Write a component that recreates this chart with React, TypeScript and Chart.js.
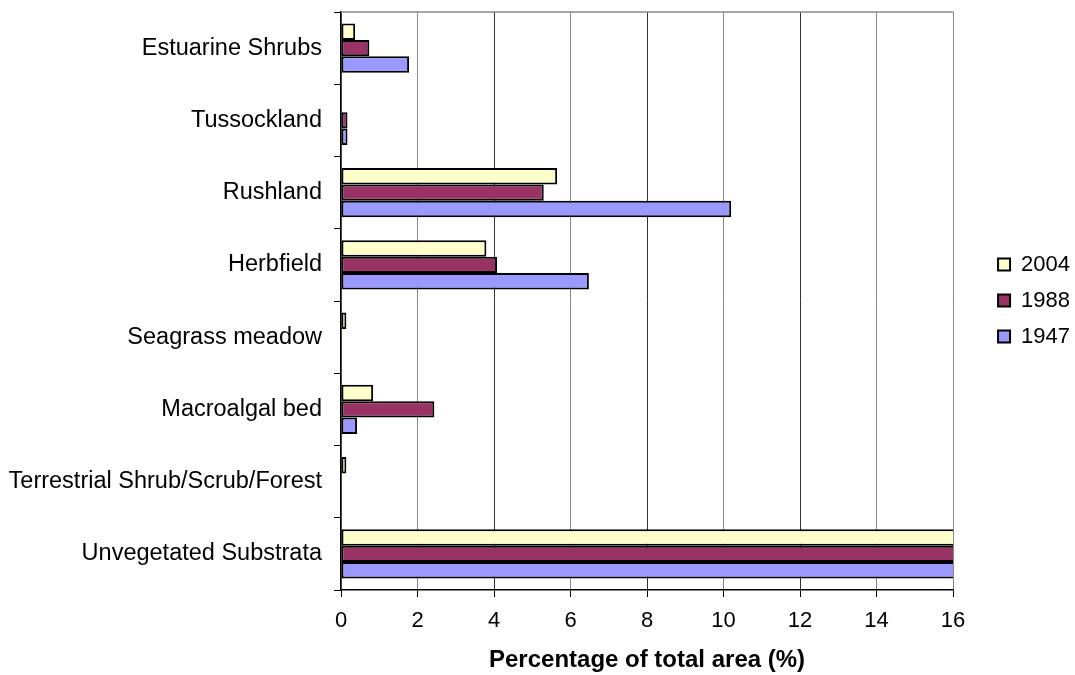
import React, { useEffect, useRef } from 'react';
import { Chart, registerables } from 'chart.js';

Chart.register(...registerables);

const categories = [
  'Estuarine Shrubs',
  'Tussockland',
  'Rushland',
  'Herbfield',
  'Seagrass meadow',
  'Macroalgal bed',
  'Terrestrial Shrub/Scrub/Forest',
  'Unvegetated Substrata',
];

// values in % of total area (last row runs off the axis)
const values2004 = [0.37, 0, 5.65, 3.8, 0.14, 0.84, 0.14, 89.1];
const values1988 = [0.74, 0.17, 5.3, 4.08, 0, 2.44, 0, 87.3];
const values1947 = [1.78, 0.17, 10.2, 6.48, 0, 0.42, 0, 80.9];

const xTicks = [0, 2, 4, 6, 8, 10, 12, 14, 16];

const FONT = 'Liberation Sans, Arial, sans-serif';

// grey frame on top of the plot area
const framePlugin = {
  id: 'frame',
  beforeDatasetsDraw(chart: Chart) {
    const { ctx, chartArea } = chart;
    ctx.save();
    ctx.strokeStyle = '#888888';
    ctx.lineWidth = 1.5;
    ctx.beginPath();
    ctx.moveTo(chartArea.left, chartArea.top);
    ctx.lineTo(chartArea.right, chartArea.top);
    ctx.stroke();
    ctx.restore();
  },
};

// push the legend away from the plot area
const legendShift = {
  id: 'legendShift',
  afterLayout(chart: any) {
    if (chart.legend) {
      chart.legend.left += 31;
      chart.legend.right += 31;
      chart.legend.top -= 43;
      chart.legend.bottom -= 43;
    }
  },
};

const App: React.FC = () => {
  const canvasRef = useRef<HTMLCanvasElement>(null);

  useEffect(() => {
    document.body.style.margin = '0';
    if (!canvasRef.current) return;
    const ctx = canvasRef.current.getContext('2d');
    if (!ctx) return;

    const mk = (label: string, data: number[], color: string) => ({
      label,
      data,
      backgroundColor: color,
      borderColor: '#000000',
      borderWidth: 2,
      borderSkipped: false as const,
      categoryPercentage: 0.68,
      barPercentage: 1,
    });

    const chart = new Chart(ctx, {
      type: 'bar',
      data: {
        labels: categories,
        datasets: [
          mk('2004', values2004, '#FFFFCC'),
          mk('1988', values1988, '#993366'),
          mk('1947', values1947, '#9999FF'),
        ],
      },
      plugins: [framePlugin, legendShift],
      options: {
        indexAxis: 'y',
        responsive: true,
        maintainAspectRatio: false,
        animation: false,
        devicePixelRatio: 1,
        layout: { padding: { top: 12, right: 26, bottom: 0, left: 0 } },
        plugins: {
          legend: {
            position: 'right',
            labels: {
              boxWidth: 12,
              boxHeight: 12,
              padding: 14,
              color: '#000000',
              font: { family: FONT, size: 22 },
            },
          },
          tooltip: { enabled: false },
        },
        scales: {
          x: {
            type: 'linear',
            min: 0,
            max: 16,
            afterBuildTicks: (s: any) => {
              s.ticks = xTicks.map(v => ({ value: v }));
            },
            afterFit: (s: any) => {
              s.height = 85;
            },
            grid: {
              color: (c: any) => ([4, 8, 12].includes(c.tick?.value) ? '#333333' : '#888888'),
              lineWidth: 1,
              drawTicks: true,
              tickLength: 7,
              tickColor: '#000000',
            },
            border: { display: true, color: '#000000', width: 1.5 },
            ticks: {
              color: '#000000',
              padding: 11,
              font: { family: FONT, size: 22 },
            },
            title: {
              display: true,
              text: 'Percentage of total area (%)',
              color: '#000000',
              font: { family: FONT, size: 24, weight: 'bold' },
              padding: { top: 0, bottom: 0 },
            },
          },
          y: {
            afterFit: (s: any) => {
              s.width = 341;
              s.paddingTop = 0;
              s.paddingBottom = 0;
            },
            grid: {
              offset: true,
              drawOnChartArea: false,
              drawTicks: true,
              tickLength: 7,
              color: '#000000',
            },
            border: { display: true, color: '#000000', width: 1.5 },
            ticks: {
              color: '#000000',
              padding: 12,
              font: { family: FONT, size: 23.5 },
            },
          },
        },
      },
    });

    return () => {
      chart.destroy();
    };
  }, []);

  return (
    <div style={{ width: 1075, height: 675, position: 'relative' }}>
      <canvas ref={canvasRef} />
    </div>
  );
};

export default App;
